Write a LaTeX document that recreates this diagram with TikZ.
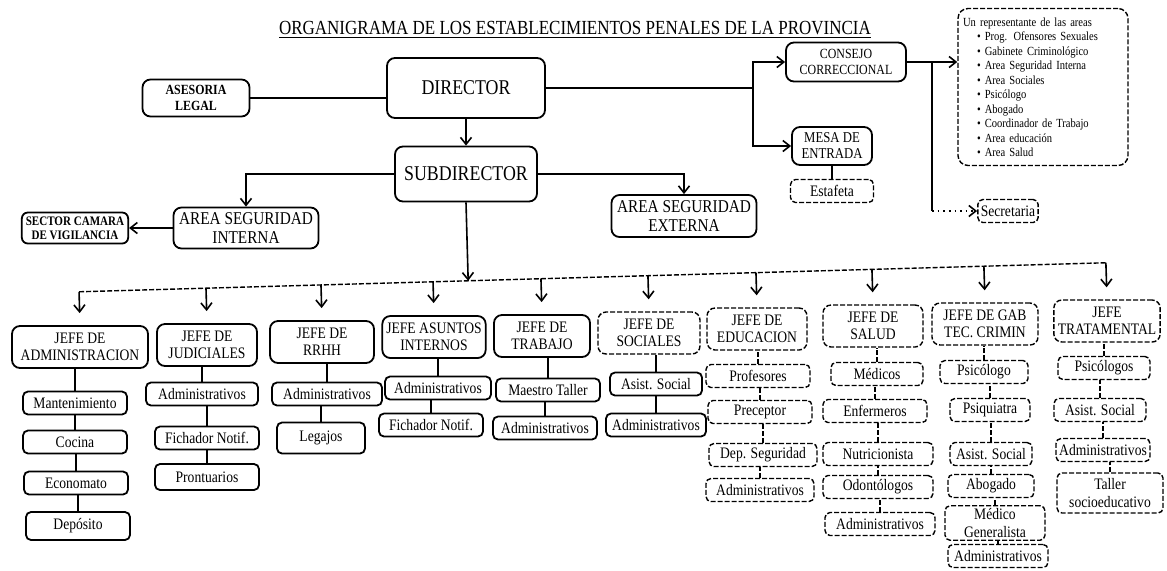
\documentclass[tikz,border=0pt]{standalone}
\usepackage{fontspec}
\setmainfont{Liberation Serif}[FakeStretch=0.85]
\usetikzlibrary{arrows.meta,calc}

\tikzset{
  box/.style={draw, rounded corners=4pt, line width=0.9pt, align=center, inner sep=2pt},
  faded/.style={dash pattern=on 2.5pt off 1pt, line width=0.7pt},
  jefe/.style={box, minimum width=50pt, minimum height=21pt, font=\fontsize{8}{8.6}\selectfont},
  item/.style={box, rounded corners=2.5pt, minimum width=52pt, minimum height=11.5pt, inner sep=1.5pt, font=\fontsize{8}{8.6}\selectfont},
  link/.style={line width=0.8pt},
  arr/.style={link, -{Straight Barb[length=3.5pt,width=5.5pt]}},
}

\begin{document}
\begin{tikzpicture}[x=0.5pt,y=-0.5pt]
\useasboundingbox (0,0) rectangle (1167,570);

% title
\node[font=\fontsize{10}{12}\selectfont] (titulo) at (575,30) {\underline{ORGANIGRAMA DE LOS ESTABLECIMIENTOS PENALES DE LA PROVINCIA}};

% top of the chart
\node[box, minimum width=79pt, minimum height=30pt, font=\fontsize{10.5}{12}\selectfont] (dir) at (466,88) {DIRECTOR};
\node[box, minimum width=71pt, minimum height=27.5pt, font=\fontsize{10.5}{12}\selectfont] (subdir) at (466,174) {SUBDIRECTOR};
\node[box, minimum width=53.5pt, minimum height=18.5pt, font=\fontsize{7}{7.6}\selectfont\bfseries] (asesoria) at (196,98) {ASESORIA\\LEGAL};
\node[box, minimum width=72.5pt, minimum height=20.5pt, font=\fontsize{9}{9.6}\selectfont] (aint) at (246,228) {AREA SEGURIDAD\\INTERNA};
\node[box, minimum width=72.5pt, minimum height=21pt, font=\fontsize{9}{9.6}\selectfont] (aext) at (684,216) {AREA SEGURIDAD\\EXTERNA};
\node[box, rounded corners=3pt, minimum width=53pt, minimum height=15.5pt, font=\fontsize{6.5}{7}\selectfont\bfseries] (camara) at (75,228) {SECTOR CAMARA\\DE VIGILANCIA};
\node[box, minimum width=60pt, minimum height=19.5pt, font=\fontsize{7}{7.8}\selectfont] (consejo) at (846,62) {CONSEJO\\CORRECCIONAL};
\node[box, minimum width=40pt, minimum height=19pt, font=\fontsize{7.5}{8}\selectfont] (mesa) at (832,146) {MESA DE\\ENTRADA};
\node[item, faded, minimum width=41.5pt] (estafeta) at (832,191) {Estafeta};
\node[item, faded, minimum width=24pt] (secret) at (1008,211) {Secretaria};
\node[box, faded, rounded corners=5pt, text width=80pt, inner xsep=2.5pt, minimum height=78.5pt, align=left, font=\fontsize{6.2}{7.25}\selectfont] (areas) at (1043,87) {Un representante de las areas\\
\hspace{7pt}\textbullet\ Prog. Ofensores Sexuales\\
\hspace{7pt}\textbullet\ Gabinete Criminológico\\
\hspace{7pt}\textbullet\ Area Seguridad Interna\\
\hspace{7pt}\textbullet\ Area Sociales\\
\hspace{7pt}\textbullet\ Psicólogo\\
\hspace{7pt}\textbullet\ Abogado\\
\hspace{7pt}\textbullet\ Coordinador de Trabajo\\
\hspace{7pt}\textbullet\ Area educación\\
\hspace{7pt}\textbullet\ Area Salud};

\coordinate (dsplit) at (753,88);
\draw[link] (asesoria.east) -- (asesoria.east -| dir.west);
\draw[link] (dir.east) -- (dsplit);
\draw[arr] (dsplit) |- (consejo.west);
\draw[arr] (dsplit) |- (mesa.west);
\draw[link] (mesa.south) -- (estafeta.north);
\draw[arr] (dir.south) -- (subdir.north);
\draw[arr] (subdir.west) -| (aint.north);
\draw[arr] (subdir.east) -| (aext.north);
\draw[arr] (aint.west) -- (camara.east);
\draw[arr] (consejo.east) -- (consejo.east -| areas.west);
\coordinate (csplit) at ($(consejo.east)!0.5!(consejo.east -| areas.west)$);
\draw[link] (csplit) -- (csplit |- secret.west);
\draw[arr, dotted] (csplit |- secret.west) -- (secret.west);

% jefes
\node[jefe, minimum width=68pt] (jadm) at (80,347) {JEFE DE\\ADMINISTRACION};
\node[jefe] (jjud) at (207,345) {JEFE DE\\JUDICIALES};
\node[jefe, minimum width=52pt] (jrrhh) at (322,342) {JEFE DE\\RRHH};
\node[jefe, minimum width=49pt] (jasun) at (434,337) {JEFE ASUNTOS\\INTERNOS};
\node[jefe, minimum width=48pt] (jtrab) at (542,336) {JEFE DE\\TRABAJO};
\node[jefe, faded, minimum width=51pt] (jsoc) at (649,333) {JEFE DE\\SOCIALES};
\node[jefe, faded] (jedu) at (757,329) {JEFE DE\\EDUCACION};
\node[jefe, faded] (jsal) at (873,326) {JEFE DE\\SALUD};
\node[jefe, faded, minimum width=53pt] (jgab) at (985,324) {JEFE DE GAB\\TEC. CRIMIN};
\node[jefe, faded, minimum width=52pt] (jtrat) at (1107,321) {JEFE\\TRATAMENTAL};

% bus to the jefes
\coordinate (busL) at (0,294);
\coordinate (busR) at (1167,261);
\draw[faded] ($(busL)!(jadm.north)!(busR)$) -- ($(busL)!(jtrat.north)!(busR)$);
\draw[arr] (subdir.south) -- ($(busL)!(subdir.south)!(busR)$);
\foreach \j in {jadm,jjud,jrrhh,jasun,jtrab,jsoc,jedu,jsal,jgab,jtrat}
  \draw[arr, shorten >=6pt] ($(busL)!(\j.north)!(busR)$) -- (\j.north);

% administracion
\node[item] (adm1) at (75,403) {Mantenimiento};
\node[item] (adm2) at (75,442) {Cocina};
\node[item] (adm3) at (76,483) {Economato};
\node[item, minimum height=14pt] (adm4) at (78,526) {Depósito};
\draw[link] (adm1.north) -- (adm1.north |- jadm.south) (adm2.north) -- (adm2.north |- adm1.south)
  (adm3.north) -- (adm3.north |- adm2.south) (adm4.north) -- (adm4.north |- adm3.south);

% judiciales
\node[item, minimum width=56pt] (jud1) at (202,394) {Administrativos};
\node[item] (jud2) at (207,438) {Fichador Notif.};
\node[item, minimum height=13pt] (jud3) at (207,477) {Prontuarios};
\draw[link] (jud1.north) -- (jud1.north |- jjud.south) (jud2.north) -- (jud2.north |- jud1.south)
  (jud3.north) -- (jud3.north |- jud2.south);

% rrhh
\node[item, minimum width=55pt] (rh1) at (327,394) {Administrativos};
\node[item, minimum width=44pt, minimum height=15.5pt] (rh2) at (321,438) {Legajos};
\draw[link] (rh1.north) -- (rh1.north |- jrrhh.south) (rh2.north) -- (rh2.north |- rh1.south);

% asuntos internos
\node[item, minimum width=53pt] (as1) at (438,388) {Administrativos};
\node[item] (as2) at (431,425) {Fichador Notif.};
\draw[link] (as1.north) -- (as1.north |- jasun.south) (as2.north) -- (as2.north |- as1.south);

% trabajo
\node[item] (tr1) at (548,390) {Maestro Taller};
\node[item] (tr2) at (545,428) {Administrativos};
\draw[link] (tr1.north) -- (tr1.north |- jtrab.south) (tr2.north) -- (tr2.north |- tr1.south);

% sociales
\node[item, minimum width=46pt] (so1) at (656,384) {Asist. Social};
\node[item, minimum width=50pt] (so2) at (656,425) {Administrativos};
\draw[link] (so1.north) -- (so1.north |- jsoc.south) (so2.north) -- (so2.north |- so1.south);

% educacion
\node[item, faded] (ed1) at (758,376) {Profesores};
\node[item, faded] (ed2) at (760,412) {Preceptor};
\node[item, faded, minimum width=54pt] (ed3) at (763,455) {Dep. Seguridad};
\node[item, faded, minimum width=54pt] (ed4) at (760,490) {Administrativos};
\draw[link, faded] (ed1.north) -- (ed1.north |- jedu.south) (ed2.north) -- (ed2.north |- ed1.south)
  (ed3.north) -- (ed3.north |- ed2.south) (ed4.north) -- (ed4.north |- ed3.south);

% salud
\node[item, faded, minimum width=46pt] (sa1) at (877,374) {Médicos};
\node[item, faded] (sa2) at (875,411) {Enfermeros};
\node[item, faded, minimum width=55pt] (sa3) at (878,454) {Nutricionista};
\node[item, faded, minimum width=55pt] (sa4) at (878,487) {Odontólogos};
\node[item, faded, minimum width=55pt] (sa5) at (880,524) {Administrativos};
\draw[link, faded] (sa1.north) -- (sa1.north |- jsal.south) (sa2.north) -- (sa2.north |- sa1.south)
  (sa3.north) -- (sa3.north |- sa2.south) (sa4.north) -- (sa4.north |- sa3.south)
  (sa5.north) -- (sa5.north |- sa4.south);

% gabinete criminologico
\node[item, faded, minimum width=44pt] (gb1) at (984,372) {Psicólogo};
\node[item, faded, minimum width=40pt] (gb2) at (990,410) {Psiquiatra};
\node[item, faded, minimum width=41pt] (gb3) at (991,454) {Asist. Social};
\node[item, faded, minimum width=43pt] (gb4) at (991,486) {Abogado};
\node[item, faded, minimum width=50pt, minimum height=16.5pt] (gb5) at (995,523) {Médico\\Generalista};
\node[item, faded, minimum width=50pt] (gb6) at (998,556) {Administrativos};
\draw[link, faded] (gb1.north) -- (gb1.north |- jgab.south) (gb2.north) -- (gb2.north |- gb1.south)
  (gb3.north) -- (gb3.north |- gb2.south) (gb4.north) -- (gb4.north |- gb3.south)
  (gb5.north) -- (gb5.north |- gb4.south) (gb6.north) -- (gb6.north |- gb5.south);

% tratamental
\node[item, faded, minimum width=46pt] (tt1) at (1104,368) {Psicólogos};
\node[item, faded, minimum width=46pt] (tt2) at (1100,410) {Asist. Social};
\node[item, faded, minimum width=47pt] (tt3) at (1103,450) {Administrativos};
\node[item, faded, minimum width=53pt, minimum height=20pt] (tt4) at (1110,493) {Taller\\socioeducativo};
\draw[link, faded] (tt1.north) -- (tt1.north |- jtrat.south) (tt2.north) -- (tt2.north |- tt1.south)
  (tt3.north) -- (tt3.north |- tt2.south) (tt4.north) -- (tt4.north |- tt3.south);

\end{tikzpicture}
\end{document}
